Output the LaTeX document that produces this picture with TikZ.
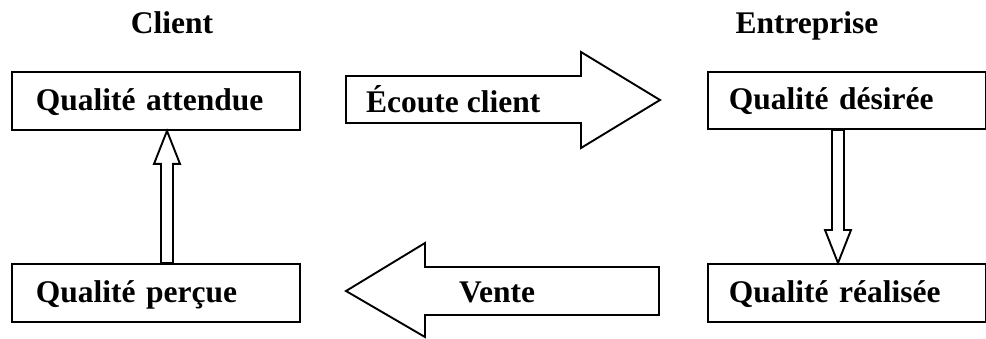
\documentclass[tikz,border=0pt]{standalone}
\usepackage{fontspec}
\setmainfont{Liberation Serif}
\usetikzlibrary{calc}
\begin{document}
\begin{tikzpicture}[x=1pt,y=-1pt,
  every node/.style={font=\fontsize{31.5}{37}\selectfont\bfseries},
  box/.style={draw, line width=1.9pt, anchor=north west, minimum height=58pt, inner ysep=0pt, align=left, text height=24pt, text depth=5pt},
  blk/.style={draw, line width=1.9pt, line join=miter, fill=white},
  lbl/.style={anchor=base west, inner sep=0pt},
  ttl/.style={anchor=base, inner sep=0pt}]
\useasboundingbox (0,0) rectangle (986,338);
% titles
\node[ttl] (tc) at (172,33) {Client};
\node[ttl] (te) at (807,33) {Entreprise};
% boxes
\node[box, inner xsep=24pt, text width=240pt] (qa) at (11,71) {Qualité attendue};
\node[box, inner xsep=24pt, text width=240pt] (qp) at (11,263) {Qualité perçue};
\node[box, inner xsep=21pt, text width=236pt, minimum height=57pt] (qd) at (707,71) {Qualité désirée};
\node[box, inner xsep=21pt, text width=236pt] (qr) at (707,263) {Qualité réalisée};
% block arrows
\draw[blk] (346,76) -- (581,76) -- (581,52) -- (660,100) -- (581,148) -- (581,123) -- (346,123) -- cycle;
\node[lbl] (ec) at (366,112) {Écoute client};
\draw[blk] (659,267) -- (425,267) -- (425,243) -- (346,291) -- (425,337) -- (425,315) -- (659,315) -- cycle;
\node[lbl] (ve) at (459,302) {Vente};
% vertical hollow arrows
\coordinate (lt) at ($(qa.south west)+(156,0)$);
\coordinate (lb) at ($(qp.north west)+(156,0)$);
\draw[blk] (lt) -- ($(lt)+(13,33)$) -- ($(lt)+(6,33)$) -- ($(lb)+(6,0)$) -- ($(lb)+(-6,0)$) -- ($(lt)+(-6,33)$) -- ($(lt)+(-13,33)$) -- cycle;
\coordinate (rt) at ($(qd.south west)+(131,0)$);
\coordinate (rb) at ($(qr.north west)+(131,0)$);
\draw[blk] (rb) -- ($(rb)+(13,-33)$) -- ($(rb)+(6,-33)$) -- ($(rt)+(6,0)$) -- ($(rt)+(-6,0)$) -- ($(rb)+(-6,-33)$) -- ($(rb)+(-13,-33)$) -- cycle;
\end{tikzpicture}
\end{document}
